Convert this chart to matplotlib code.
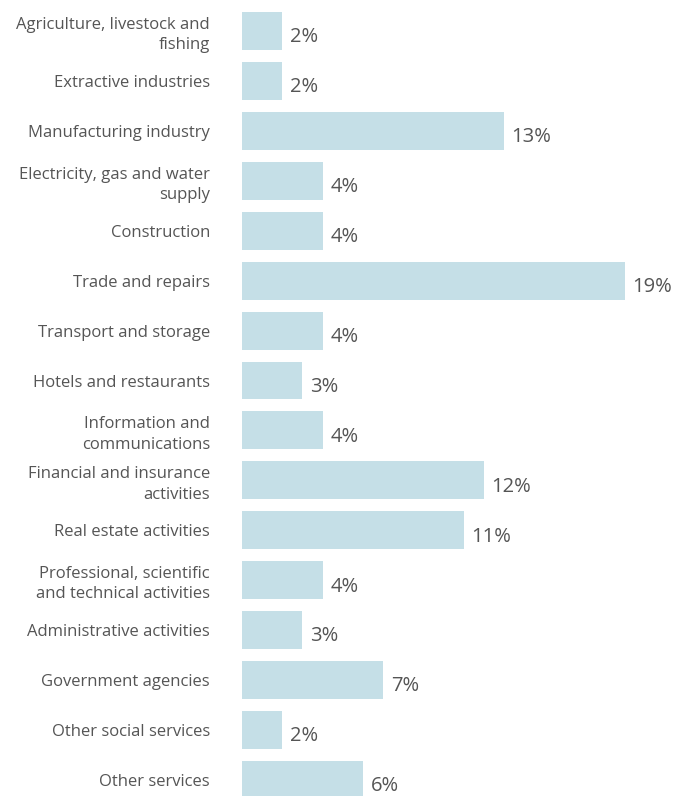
import matplotlib
matplotlib.use("Agg")
import matplotlib.pyplot as plt

categories = [
    "Agriculture, livestock and\nfishing",
    "Extractive industries",
    "Manufacturing industry",
    "Electricity, gas and water\nsupply",
    "Construction",
    "Trade and repairs",
    "Transport and storage",
    "Hotels and restaurants",
    "Information and\ncommunications",
    "Financial and insurance\nactivities",
    "Real estate activities",
    "Professional, scientific\nand technical activities",
    "Administrative activities",
    "Government agencies",
    "Other social services",
    "Other services",
]
values = [2, 2, 13, 4, 4, 19, 4, 3, 4, 12, 11, 4, 3, 7, 2, 6]
value_labels = [f"{v}%" for v in values]

plt.rcParams['font.family'] = ['Open Sans', 'DejaVu Sans']
W, H = 676, 796
fig = plt.figure(figsize=(W / 100, H / 100), dpi=100)
ax = fig.add_axes([242 / W, 0, 1 - 242 / W, 1])

bar_color = "#C5DFE7"
text_color = "#555555"
ypos = list(range(len(categories)))
ax.barh(ypos, values, height=0.76, color=bar_color)
ax.set_xlim(0, 434 / 20.15)
ax.set_ylim(15.32, -0.62)

for y, v, lab in zip(ypos, values, value_labels):
    ax.annotate(lab, (v, y), xytext=(5.5, -4.5), textcoords="offset points",
                ha="left", va="center", fontsize=14.5, color=text_color)

ax.set_yticks(ypos)
ax.set_yticklabels(categories, fontsize=12, color=text_color, linespacing=1.35)
ax.tick_params(axis="y", length=0, pad=23)
ax.set_xticks([])
for s in ax.spines.values():
    s.set_visible(False)

fig.savefig("out.png", dpi=100)
